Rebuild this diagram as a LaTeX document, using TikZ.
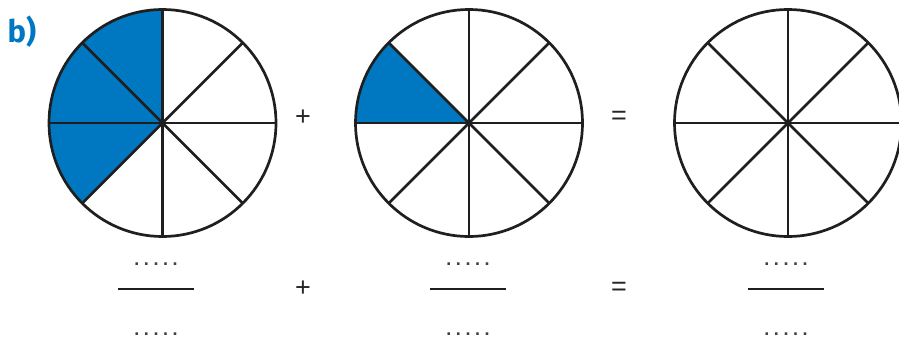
\documentclass[tikz,border=0pt]{standalone}
\usepackage{fontspec}
\setmainfont{Liberation Sans}
\newfontfamily\labelfont{Fira Sans}
\definecolor{fillblue}{HTML}{0078C1}
\newcommand{\dotrowtext}{\textbf{.\hspace{4.6pt}.\hspace{4.6pt}.\hspace{4.6pt}.\hspace{4.6pt}.}}
\begin{document}
\begin{tikzpicture}[x=1pt,y=-1pt,
  wheel/.style={circle,draw=none,minimum size=227pt,inner sep=0pt,outer sep=0pt},
  rim/.style={line width=2.7pt,draw=black!88},
  spoke/.style={line width=2.5pt,draw=black!88},
  bar/.style={line width=2.6pt,draw=black!88},
  sym/.style={font=\fontsize{27}{27}\selectfont,inner sep=0pt,text=black!85},
  dotrow/.style={font=\fontsize{18}{18}\selectfont,inner sep=0pt,text=black!75}]
\useasboundingbox (0,0) rectangle (899,351);
% wheels
\node[wheel] (c1) at (162.5,123) {};
\node[wheel] (c2) at (469,123) {};
\node[wheel] (c3) at (788,123) {};
% shaded sectors
\fill[fillblue] (c1.center) -- (c1.90) arc[start angle=90,end angle=225,radius=113.5pt] -- cycle;
\fill[fillblue] (c2.center) -- (c2.135) arc[start angle=135,end angle=180,radius=113.5pt] -- cycle;
% outlines and spokes
\foreach \c in {c1,c2,c3}{
  \foreach \a in {0,45,...,315}{
    \draw[spoke] (\c.center) -- (\c.\a);
  }
  \draw[rim] (\c.center) circle[radius=113.5pt];
}
% label
\node[font=\labelfont\bfseries\fontsize{31}{31}\selectfont,text=fillblue,inner sep=0pt] (lbl) at (22,32) {b)};
% operators
\node[sym] (p1) at (303,118) {+};
\node[sym] (e1) at (619,118) {=};
\node[sym] (p2) at (303,289) {+};
\node[sym] (e2) at (619,289) {=};
% fractions
\coordinate (f1l) at (118,289); \coordinate (f1r) at (194,289);
\coordinate (f2l) at (430,289); \coordinate (f2r) at (506,289);
\coordinate (f3l) at (748,289); \coordinate (f3r) at (824,289);
\draw[bar] (f1l) -- (f1r);
\draw[bar] (f2l) -- (f2r);
\draw[bar] (f3l) -- (f3r);
\node[dotrow] (n1) at (156,264) {\dotrowtext};
\node[dotrow] (d1) at (156,334) {\dotrowtext};
\node[dotrow] (n2) at (468,264) {\dotrowtext};
\node[dotrow] (d2) at (468,334) {\dotrowtext};
\node[dotrow] (n3) at (786,264) {\dotrowtext};
\node[dotrow] (d3) at (786,334) {\dotrowtext};
\end{tikzpicture}
\end{document}
